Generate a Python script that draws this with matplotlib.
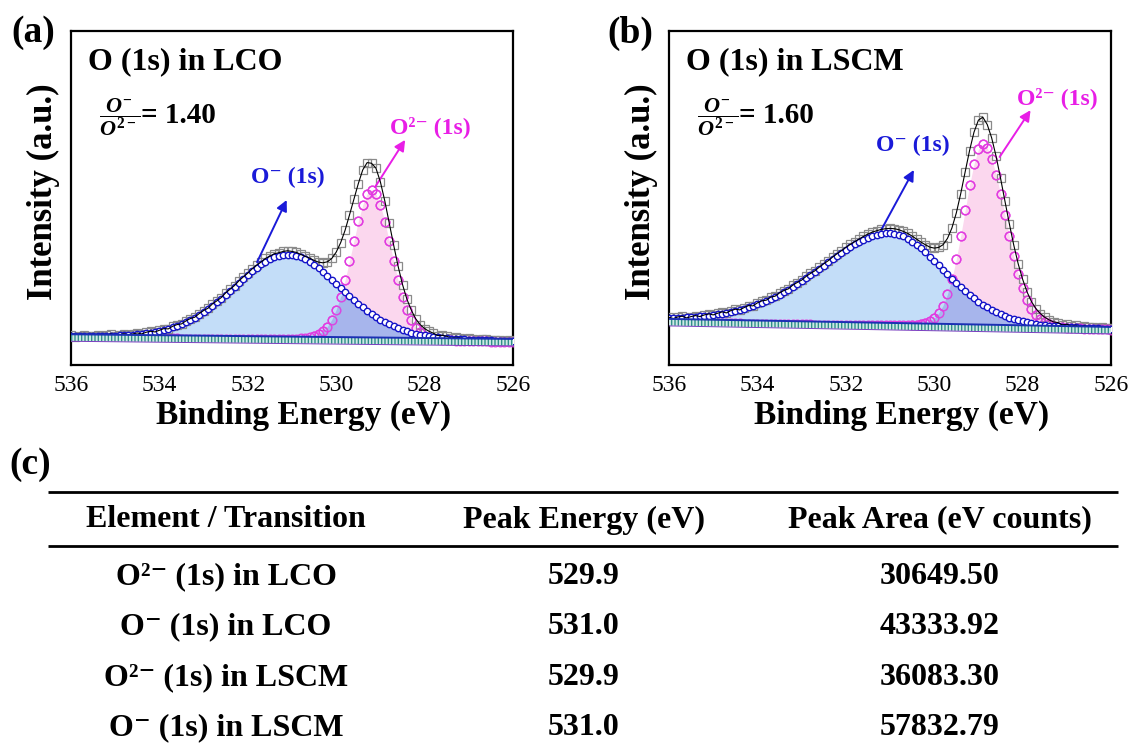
import numpy as np
import matplotlib
matplotlib.use("Agg")
import matplotlib.pyplot as plt
from matplotlib.ticker import MultipleLocator

plt.rcParams['font.family'] = 'serif'
plt.rcParams['font.serif'] = ['Liberation Serif', 'DejaVu Serif']
plt.rcParams['mathtext.fontset'] = 'custom'
plt.rcParams['mathtext.rm'] = 'Liberation Serif:bold'
plt.rcParams['mathtext.bf'] = 'Liberation Serif:bold'
plt.rcParams['mathtext.it'] = 'Liberation Serif:italic:bold'
plt.rcParams['hatch.linewidth'] = 1.0

SERIF = ['Liberation Serif', 'DejaVu Serif']

# ---------------------------------------------------------------- data
# XPS O 1s spectra, 0.1 eV step from 536 eV down to 526 eV (101 points)
energy = np.round(np.arange(536.0, 525.95, -0.1), 1)

lco_raw = [
    8.9, 8.5, 8.8, 9.1, 8.6, 8.7, 9.0, 8.6, 8.9, 9.3,
    8.8, 9.0, 9.4, 9.0, 9.3, 9.6, 9.3, 9.8, 10.1, 9.9,
    10.4, 10.9, 10.8, 11.6, 12.1, 12.3, 13.2, 13.9, 14.3, 15.4,
    16.3, 17.0, 18.3, 19.2, 20.2, 21.6, 22.7, 23.8, 25.2, 26.4,
    27.5, 28.8, 29.9, 30.8, 31.9, 32.6, 33.3, 33.6, 34.0, 34.2,
    34.0, 33.7, 33.1, 32.5, 32.0, 31.3, 30.8, 30.6, 30.9, 31.9,
    33.8, 36.6, 40.3, 44.9, 49.6, 54.3, 58.4, 60.6, 60.4, 58.9,
    54.8, 49.1, 42.5, 35.9, 29.6, 24.1, 19.7, 16.4, 13.8, 12.1,
    10.9, 10.1, 9.5, 8.8, 8.9, 8.6, 8.1, 8.3, 8.2, 7.7,
    8.0, 7.9, 7.5, 7.8, 7.7, 7.4, 7.6, 7.5, 7.2, 7.5, 7.3]
lco_ominus = [
    8.6, 8.6, 8.6, 8.6, 8.6, 8.7, 8.7, 8.7, 8.7, 8.8,
    8.8, 8.9, 8.9, 9.0, 9.1, 9.2, 9.4, 9.5, 9.7, 10.0,
    10.2, 10.5, 10.9, 11.3, 11.7, 12.3, 12.9, 13.5, 14.2, 15.0,
    15.9, 16.8, 17.8, 18.8, 19.9, 21.0, 22.2, 23.4, 24.6, 25.8,
    26.9, 28.1, 29.1, 30.1, 30.9, 31.7, 32.3, 32.7, 32.9, 33.0,
    32.9, 32.6, 32.2, 31.6, 30.8, 29.9, 28.9, 27.8, 26.7, 25.5,
    24.3, 23.1, 21.8, 20.7, 19.5, 18.4, 17.3, 16.3, 15.3, 14.5,
    13.6, 12.9, 12.2, 11.6, 11.0, 10.6, 10.1, 9.7, 9.4, 9.1,
    8.9, 8.6, 8.4, 8.3, 8.1, 8.0, 7.9, 7.8, 7.7, 7.7,
    7.6, 7.5, 7.5, 7.4, 7.4, 7.4, 7.3, 7.3, 7.3, 7.2, 7.2]
lco_o2minus = [
    8.2, 8.2, 8.2, 8.2, 8.2, 8.2, 8.2, 8.2, 8.1, 8.1,
    8.1, 8.1, 8.1, 8.1, 8.1, 8.1, 8.0, 8.0, 8.0, 8.0,
    8.0, 8.0, 8.0, 8.0, 8.0, 7.9, 7.9, 7.9, 7.9, 7.9,
    7.9, 7.9, 7.9, 7.9, 7.8, 7.8, 7.8, 7.8, 7.8, 7.8,
    7.8, 7.8, 7.8, 7.8, 7.8, 7.8, 7.8, 7.8, 7.8, 7.8,
    7.9, 7.9, 8.0, 8.1, 8.3, 8.6, 9.2, 10.1, 11.5, 13.6,
    16.6, 20.5, 25.4, 31.1, 37.1, 43.0, 47.9, 51.3, 52.5, 51.2,
    47.9, 42.9, 37.0, 31.0, 25.3, 20.3, 16.4, 13.4, 11.2, 9.8,
    8.8, 8.2, 7.9, 7.7, 7.5, 7.4, 7.4, 7.3, 7.3, 7.2,
    7.2, 7.2, 7.1, 7.1, 7.1, 7.0, 7.0, 7.0, 7.0, 7.0, 6.9]
lco_bg = [8.2, 6.8]

lscm_raw = [
    14.3, 13.9, 14.4, 14.6, 14.1, 14.5, 14.8, 14.5, 15.0, 15.3,
    15.0, 15.5, 15.9, 15.6, 16.3, 16.7, 16.5, 17.2, 17.8, 17.7,
    18.6, 19.2, 19.4, 20.3, 20.6, 21.6, 22.3, 22.8, 23.9, 24.7,
    25.4, 26.5, 27.4, 28.2, 29.3, 30.3, 31.2, 32.3, 33.3, 34.2,
    35.2, 36.1, 36.9, 37.7, 38.5, 39.2, 39.8, 40.2, 40.6, 40.8,
    40.9, 40.8, 40.5, 40.0, 39.4, 38.6, 37.7, 36.8, 36.0, 35.3,
    35.0, 35.2, 36.0, 37.9, 41.0, 45.5, 51.3, 57.8, 64.2, 69.7,
    73.3, 74.2, 72.0, 68.0, 62.5, 56.0, 49.1, 42.3, 35.9, 30.3,
    25.7, 21.9, 19.0, 16.9, 15.4, 14.3, 13.5, 12.9, 12.7, 12.0,
    12.2, 11.7, 11.9, 11.4, 11.7, 11.3, 11.5, 11.1, 11.3, 11.0, 11.2]
lscm_ominus = [
    14.0, 14.1, 14.1, 14.2, 14.3, 14.3, 14.4, 14.6, 14.7, 14.8,
    15.0, 15.2, 15.4, 15.6, 15.9, 16.2, 16.5, 16.9, 17.3, 17.7,
    18.2, 18.7, 19.2, 19.8, 20.4, 21.1, 21.8, 22.6, 23.4, 24.2,
    25.1, 26.0, 26.9, 27.8, 28.8, 29.7, 30.7, 31.7, 32.6, 33.5,
    34.4, 35.3, 36.1, 36.8, 37.5, 38.1, 38.6, 38.9, 39.2, 39.4,
    39.4, 39.3, 39.0, 38.5, 37.8, 36.9, 36.0, 34.9, 33.7, 32.4,
    31.1, 29.8, 28.5, 27.1, 25.8, 24.5, 23.3, 22.1, 21.0, 20.0,
    19.0, 18.1, 17.3, 16.5, 15.8, 15.2, 14.7, 14.2, 13.8, 13.4,
    13.1, 12.8, 12.5, 12.3, 12.1, 12.0, 11.8, 11.7, 11.6, 11.5,
    11.4, 11.3, 11.3, 11.2, 11.1, 11.1, 11.0, 11.0, 10.9, 10.9, 10.8]
lscm_o2minus = [
    12.8, 12.8, 12.8, 12.8, 12.7, 12.7, 12.7, 12.7, 12.6, 12.6,
    12.6, 12.6, 12.6, 12.5, 12.5, 12.5, 12.5, 12.4, 12.4, 12.4,
    12.4, 12.4, 12.3, 12.3, 12.3, 12.3, 12.3, 12.2, 12.2, 12.2,
    12.2, 12.2, 12.2, 12.1, 12.1, 12.1, 12.1, 12.1, 12.1, 12.0,
    12.0, 12.0, 12.0, 11.9, 11.9, 11.9, 11.9, 11.9, 11.9, 11.9,
    11.9, 11.9, 11.9, 11.9, 12.0, 12.0, 12.1, 12.3, 12.6, 13.1,
    14.0, 15.5, 17.8, 21.2, 25.8, 31.7, 38.7, 46.3, 53.8, 60.2,
    64.6, 66.1, 65.0, 61.8, 57.0, 51.2, 44.8, 38.5, 32.5, 27.3,
    23.0, 19.5, 16.9, 15.0, 13.7, 12.8, 12.2, 11.7, 11.5, 11.3,
    11.2, 11.1, 11.0, 11.0, 10.9, 10.8, 10.8, 10.7, 10.7, 10.7, 10.6]
lscm_bg = [12.8, 10.4]

bg_energy = [536.0, 526.0]
ratios = [1.40, 1.60]

# table (c)
tbl_header = ['Element / Transition', 'Peak Energy (eV)', 'Peak Area (eV counts)']
tbl_species = ['O\u00b2\u207b (1s) in LCO', 'O\u207b (1s) in LCO',
               'O\u00b2\u207b (1s) in LSCM', 'O\u207b (1s) in LSCM']
tbl_energy = [529.9, 531.0, 529.9, 531.0]
tbl_area = [30649.50, 43333.92, 36083.30, 57832.79]

# ---------------------------------------------------------------- style
C_RAW = '#8a8a8a'
C_PINK = '#e23ce0'
C_BLUE = '#1414c8'
F_PINK = '#fbd7ee'
F_BLUE = '#c3ddf8'
F_OVER = '#a2aeea'
C_BG = '#2f8f8a'
TXT_BLUE = '#1a1ad8'
TXT_PINK = '#e81ee6'

W, H = 1132, 754
fig = plt.figure(figsize=(W / 100, H / 100), dpi=100)


def draw_panel(ax, raw, ominus, o2minus, bg, title, ratio, lbl1, arr1, lbl2, arr2):
    raw = np.array(raw)
    ominus = np.array(ominus)
    o2minus = np.array(o2minus)

    # component areas
    ax.fill_between(energy, o2minus, 0, color=F_PINK, lw=0, zorder=1)
    ax.fill_between(energy, ominus, 0, color=F_BLUE, lw=0, zorder=1.1)
    ax.plot(energy, o2minus, ls='none', marker='o', ms=6.2, mfc='none',
            mec=C_PINK, mew=1.0, zorder=2)
    ax.fill_between(energy, np.minimum(ominus, o2minus), 0, color=F_OVER,
                    alpha=0.85, lw=0, zorder=2.2)
    # white area under the background line
    ax.fill_between(bg_energy, bg, 0, color='white', lw=0, zorder=2.3)

    # measured spectrum + envelope
    ax.plot(energy, raw, ls='none', marker='s', ms=6.2, mfc='none',
            mec=C_RAW, mew=0.9, zorder=2.6)
    ax.plot(energy, o2minus, ls='none', marker='o', ms=6.2, mfc='none',
            mec=C_PINK, mew=1.0, zorder=2.7, alpha=0.9,
            markevery=slice(55, 101))
    ax.plot(energy, ominus, color=C_BLUE, lw=1.0, zorder=3)
    ax.plot(energy, ominus, ls='none', marker='o', ms=4.6, mfc='white',
            mec=C_BLUE, mew=1.0, zorder=3.1)
    ax.plot(energy, raw, color='black', lw=0.8, zorder=3.5)

    # linear background band
    bg = np.array(bg)
    ax.fill_between(bg_energy, bg - 1.0, bg + 1.0, facecolor='#cfe8e5',
                    edgecolor=C_BG, hatch='|||||', lw=0, zorder=4)
    ax.plot(bg_energy, bg + 1.0, color='#1c2fb4', lw=1.4, zorder=4.1)
    ax.plot(bg_energy, bg - 1.1, color='#7a3fc0', lw=0.7, zorder=4.1)

    ax.set_xlim(536, 526)
    ax.set_ylim(0, 100)
    ax.set_yticks([])
    ax.xaxis.set_major_locator(MultipleLocator(2))
    ax.xaxis.set_minor_locator(MultipleLocator(1))
    ax.tick_params(axis='x', which='both', direction='in', top=False,
                   width=1.4, labelsize=17, pad=7)
    ax.tick_params(axis='x', which='major', length=5)
    ax.tick_params(axis='x', which='minor', length=4)
    for sp in ax.spines.values():
        sp.set_linewidth(1.6)

    ax.set_xlabel('Binding Energy (eV)', fontsize=24, fontweight='bold')
    ax.xaxis.set_label_coords(0.526, -0.105)
    ax.set_ylabel('Intensity (a.u.)', fontsize=25, fontweight='bold')
    ax.yaxis.set_label_coords(-0.025, 0.519)

    ax.text(0.038, 0.907, title, transform=ax.transAxes, fontsize=23,
            fontweight='bold', va='center', ha='left')
    ax.text(0.064, 0.743, r'$\dfrac{O^{-}}{O^{2-}}$',
            transform=ax.transAxes, fontsize=16, va='center', ha='left')
    ax.text(0.158, 0.747, '= %.2f' % ratio,
            transform=ax.transAxes, fontsize=21, fontweight='bold',
            va='center', ha='left')

    ax.text(lbl1[0], lbl1[1], 'O\u207b (1s)', color=TXT_BLUE, fontsize=17,
            fontweight='bold', ha='center', va='center', family=SERIF)
    ax.annotate('', xy=arr1[1], xytext=arr1[0],
                arrowprops=dict(arrowstyle='-|>', color=TXT_BLUE, lw=1.4,
                                mutation_scale=16, shrinkA=0, shrinkB=0))
    ax.text(lbl2[0], lbl2[1], 'O\u00b2\u207b (1s)', color=TXT_PINK, fontsize=17,
            fontweight='bold', ha='center', va='center', family=SERIF)
    ax.annotate('', xy=arr2[1], xytext=arr2[0],
                arrowprops=dict(arrowstyle='-|>', color=TXT_PINK, lw=1.4,
                                mutation_scale=16, shrinkA=0, shrinkB=0))


ax_a = fig.add_axes([71 / W, 1 - 365 / H, 442 / W, 334 / H])
ax_b = fig.add_axes([669 / W, 1 - 365 / H, 442 / W, 334 / H])

draw_panel(ax_a, lco_raw, lco_ominus, lco_o2minus, lco_bg, 'O (1s) in LCO', ratios[0],
           (531.1, 56.3), ((531.79, 30.8), (531.12, 49.4)),
           (527.88, 71.3), ((529.12, 53.3), (528.44, 67.4)))
draw_panel(ax_b, lscm_raw, lscm_ominus, lscm_o2minus, lscm_bg, 'O (1s) in LSCM', ratios[1],
           (530.48, 65.6), ((531.2, 40.4), (530.46, 58.4)),
           (527.22, 79.9), ((528.52, 62.3), (527.82, 76.3)))

fig.text(33 / W, 1 - 32 / H, '(a)', fontsize=27, fontweight='bold', ha='center', va='center')
fig.text(630 / W, 1 - 33 / H, '(b)', fontsize=27, fontweight='bold', ha='center', va='center')
fig.text(30 / W, 1 - 465 / H, '(c)', fontsize=27, fontweight='bold', ha='center', va='center')

# ---------------------------------------------------------------- table (c)
ax_t = fig.add_axes([0, 0, 1, 1 - 470 / H])
ax_t.set_xlim(0, W)
ax_t.set_ylim(H, 470)
ax_t.axis('off')
ax_t.plot([48, 1118], [492, 492], color='black', lw=2.0, solid_capstyle='butt')
ax_t.plot([48, 1118], [546, 546], color='black', lw=2.0, solid_capstyle='butt')

col_x = [226, 584, 940]
for cx, h in zip(col_x, tbl_header):
    ax_t.text(cx, 520, h, fontsize=23, fontweight='bold', ha='center', va='center')

row_y = [577, 627, 678, 728]
for ry, sp, pe, pa in zip(row_y, tbl_species, tbl_energy, tbl_area):
    ax_t.text(col_x[0], ry, sp, fontsize=23, fontweight='bold', ha='center',
              va='center', family=SERIF)
    ax_t.text(col_x[1], ry, '%.1f' % pe, fontsize=23, fontweight='bold', ha='center', va='center')
    ax_t.text(col_x[2], ry, '%.2f' % pa, fontsize=23, fontweight='bold', ha='center', va='center')

fig.savefig('out.png', dpi=100)
